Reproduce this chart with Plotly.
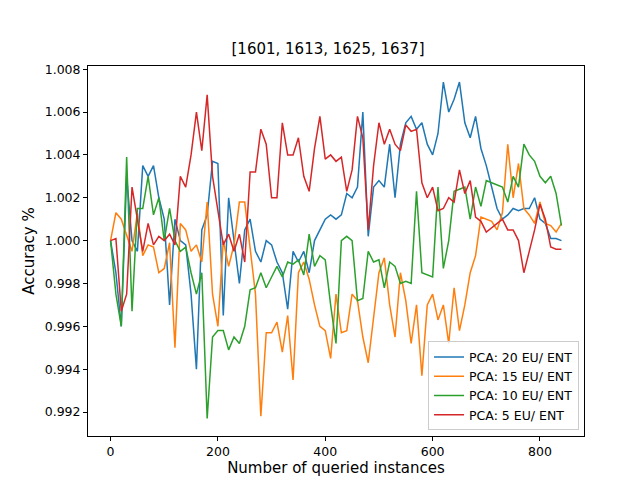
import plotly.graph_objects as go

x_vals = list(range(0, 850, 10))

acc_20 = [1.0, 0.9985, 0.996, 1.003, 1.0, 0.9995, 1.0035, 1.003, 1.0035, 1.002, 1.001, 0.997, 1.001, 1.0,
          0.9998, 0.9975, 0.994, 1.0005, 1.0012, 1.0037, 1.0036, 0.9965, 1.002, 1.0, 0.998, 1.0005, 1.001,
          0.9995, 0.999, 1.0, 0.9998, 0.999, 0.9985, 0.9968, 0.9995, 0.999, 0.9995, 0.9985, 1.0, 1.0005,
          1.001, 1.0012, 1.001, 1.0012, 1.0022, 1.002, 1.0025, 1.006, 1.0002, 1.0025, 1.0028, 1.0025, 1.0045,
          1.002, 1.0045, 1.0055, 1.0058, 1.0052, 1.0055, 1.0045, 1.004, 1.005, 1.0074, 1.006, 1.0066, 1.0074,
          1.0055, 1.0048, 1.0058, 1.0043, 1.0035, 1.0025, 1.0015, 1.001, 1.0012, 1.0015, 1.0014, 1.0015,
          1.0015, 1.002, 1.001, 1.0008, 1.0001, 1.0001, 1.0]
acc_15 = [1.0, 1.0013, 1.001, 1.0002, 0.9995, 1.0013, 0.9993, 0.9998, 0.9997, 0.9985, 0.9987, 0.9999,
          0.995, 1.0008, 1.0005, 0.9995, 0.9998, 0.999, 1.0018, 0.9975, 0.996, 1.0, 0.9988, 0.9998, 1.0018,
          1.0018, 0.9995, 0.9975, 0.9918, 0.9957, 0.9957, 0.9962, 0.9948, 0.9965, 0.9935, 0.9985, 0.999,
          0.9982, 0.997, 0.996, 0.9958, 0.9945, 0.9975, 0.9957, 0.9958, 0.9975, 0.9972, 0.9955, 0.9943,
          0.9965, 0.9985, 0.9992, 0.997, 0.9955, 0.9985, 0.9972, 0.9952, 0.997, 0.9937, 0.997, 0.9975,
          0.9963, 0.997, 0.9952, 0.9978, 0.9958, 0.997, 0.9985, 0.9993, 1.0011, 1.001, 1.0009, 1.0005,
          1.0013, 1.0045, 1.002, 1.0036, 1.0015, 1.0012, 1.0008, 1.0018, 1.0008, 1.0007, 1.0004, 1.0008]
acc_10 = [1.0, 0.9975, 0.996, 1.0039, 0.9967, 1.0015, 1.0015, 1.003, 1.0012, 1.002, 1.0, 1.0015, 1.0,
          0.9995, 0.9997, 0.9985, 0.9975, 0.9985, 0.9917, 0.9955, 0.9958, 0.9958, 0.9949, 0.9955, 0.9952,
          0.996, 0.9977, 0.9978, 0.9985, 0.9978, 0.9983, 0.9988, 0.9983, 0.999, 0.9989, 0.9991, 0.9984,
          1.0003, 0.9988, 0.9993, 0.9991, 0.997, 0.9952, 1.0, 1.0002, 1.0, 0.9972, 0.9973, 0.9995, 0.999,
          0.9991, 0.9978, 0.999, 0.9988, 0.998, 0.9981, 0.998, 1.0023, 0.9985, 0.9984, 0.9983, 1.0025,
          0.9987, 1.0, 1.0023, 1.0024, 1.0025, 1.001, 1.0025, 1.0016, 1.0028, 1.0027, 1.0026, 1.0025,
          1.0018, 1.003, 1.0025, 1.0045, 1.004, 1.0037, 1.003, 1.0027, 1.003, 1.0022, 1.0007]
acc_5 = [1.0, 1.0001, 0.9967, 0.9975, 1.0025, 1.001, 0.9995, 1.0008, 0.9998, 1.0002, 1.0, 1.0003, 0.9998,
         1.003, 1.0025, 1.004, 1.006, 1.0042, 1.0068, 1.003, 1.0015, 0.9998, 1.0003, 0.9995, 1.0003, 0.999,
         1.0032, 1.0032, 1.0052, 1.0045, 1.002, 1.002, 1.0055, 1.004, 1.004, 1.0048, 1.003, 1.0023, 1.0043,
         1.0058, 1.0038, 1.004, 1.0037, 1.0039, 1.0023, 1.0033, 1.0058, 1.0048, 1.0005, 1.0035, 1.0055,
         1.0045, 1.0052, 1.0045, 1.0042, 1.0054, 1.0051, 1.0052, 1.0027, 1.002, 1.0025, 1.0014, 1.0015,
         1.002, 1.0018, 1.0033, 1.0022, 1.0028, 1.0011, 1.0009, 1.0004, 1.0006, 1.0008, 1.001, 1.0005,
         1.0005, 1.0, 0.9985, 0.9995, 1.0005, 1.0017, 1.001, 0.9997, 0.9996, 0.9996]

series = [
    ("PCA: 20 EU/ ENT", acc_20, "#1f77b4"),
    ("PCA: 15 EU/ ENT", acc_15, "#ff7f0e"),
    ("PCA: 10 EU/ ENT", acc_10, "#2ca02c"),
    ("PCA: 5 EU/ ENT", acc_5, "#d62728"),
]

fig = go.Figure()
for name, ys, color in series:
    fig.add_trace(go.Scatter(x=x_vals, y=ys, mode="lines", name=name,
                             line=dict(color=color, width=1.5)))

axis_style = dict(showgrid=False, zeroline=False, showline=True, linecolor="black",
                  mirror=True, ticks="outside", ticklen=4, tickcolor="black", automargin=False)
fig.update_layout(
    width=640, height=480,
    paper_bgcolor="white", plot_bgcolor="white",
    font=dict(family="DejaVu Sans", size=12.5, color="black"),
    title=dict(text="[1601, 1613, 1625, 1637]", x=0.5, xanchor="center", y=0.915, yanchor="middle",
               font=dict(size=15)),
    margin=dict(l=80, r=64, t=58, b=52),
    xaxis=dict(title=dict(text="Number of queried instances", standoff=4),
               range=[-42, 882], tickvals=[0, 200, 400, 600, 800], **axis_style),
    yaxis=dict(title=dict(text="Accuracy %", standoff=6), range=[0.99088, 1.00815],
               tickvals=[0.992, 0.994, 0.996, 0.998, 1.0, 1.002, 1.004, 1.006, 1.008],
               tickformat=".3f", **axis_style),
    legend=dict(x=0.99, y=0.015, xanchor="right", yanchor="bottom", bgcolor="rgba(255,255,255,0.8)",
                bordercolor="#cccccc", borderwidth=1, font=dict(size=12.5)),
)

fig.write_html("out.html")
